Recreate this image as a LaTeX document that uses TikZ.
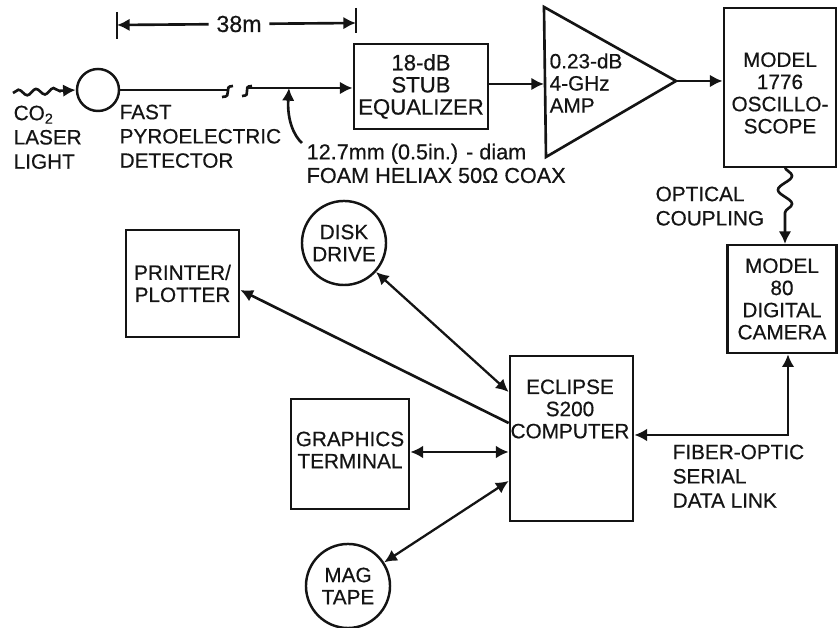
\documentclass[tikz,border=0pt]{standalone}
\usepackage{fontspec}
\setmainfont{Liberation Sans}[FakeBold=0.5]
\usetikzlibrary{arrows.meta,decorations.pathmorphing}
\definecolor{ink}{HTML}{141414}
\tikzset{
  blockbox/.style={draw=ink,line width=.75pt,inner sep=0pt,align=center,text=ink},
  roundbox/.style={draw=ink,circle,line width=.7pt,inner sep=0pt,align=center,text=ink,minimum size=.84cm},
  lbl/.style={inner sep=0pt,align=left,text=ink,font=\fontsize{5.9}{6.9}\selectfont},
  midlbl/.style={inner sep=0pt,align=center,text=ink},
  link/.style={draw=ink,line width=.75pt,-{Latex[length=3.6pt,width=3.6pt]}},
  duplex/.style={draw=ink,line width=.65pt,{Latex[length=3.6pt,width=3.6pt]}-{Latex[length=3.6pt,width=3.6pt]}},
  wavy/.style={decorate,decoration={snake,amplitude=.85pt,segment length=5pt,post length=4pt}},
}
\begin{document}
\begin{tikzpicture}[font=\fontsize{5.9}{6.3}\selectfont,>=Latex,x=.01cm,y=-.01cm]
  \useasboundingbox (0,0) rectangle (838,628);
  % top row
  \node[roundbox,minimum size=.42cm] (det) at (98,90) {};
  \node[blockbox,font=\fontsize{6.3}{6.3}\selectfont,minimum width=1.34cm,minimum height=.85cm] (stub) at (421,86.5) {18-dB\\STUB\\EQUALIZER};
  \coordinate (ampin) at (544,84);
  \coordinate (ampout) at (676,81);
  \draw[ink,line width=.75pt,line join=miter] (544,7)--(ampout)--(546,157)--cycle;
  \node[midlbl,align=left,anchor=west] (amp) at (549,83) {0.23-dB\\4-GHz\\AMP};
  \node[blockbox,minimum width=1.12cm,minimum height=1.59cm] (scope) at (780,87.5) {};
  \node[midlbl] (scopetext) at (780,93) {MODEL\\1776\\OSCILLO-\\SCOPE};
  \node[blockbox,minimum width=1.09cm,minimum height=1.08cm] (camera) at (782,299) {MODEL\\80\\DIGITAL\\CAMERA};
  % lower group
  \node[blockbox,minimum width=1.23cm,minimum height=1.65cm] (eclipse) at (571.5,438.5) {};
  \node[midlbl] (eclipsetext) at (570,409) {ECLIPSE\\S200\\COMPUTER};
  \node[blockbox,minimum width=1.18cm,minimum height=1.10cm] (graphics) at (350,454) {};
  \node[midlbl] (graphicstext) at (350,450) {GRAPHICS\\TERMINAL};
  \node[blockbox,minimum width=1.13cm,minimum height=1.07cm] (printer) at (182.5,283.5) {PRINTER/\\PLOTTER};
  \node[roundbox] (disk) at (344,243) {DISK\\DRIVE};
  \node[roundbox] (tape) at (348,586) {MAG\\TAPE};
  % dimension
  \coordinate (dimL) at (117,25);
  \coordinate (dimR) at (356,23);
  \node[midlbl,font=\fontsize{6.6}{8}\selectfont,inner sep=2pt] (dist) at (239,24) {38m};
  \draw[ink,line width=.7pt] (117,12)--(117,39);
  \draw[ink,line width=.7pt] (356,8)--(356,33);
  \draw[link] (dist)--(dimL);
  \draw[link] (dist)--(dimR);
  % signal path
  \coordinate (lightin) at (13,93);
  \coordinate (breakL) at (228,90);
  \coordinate (breakR) at (247,88);
  \coordinate (tap) at (289,88);
  \draw[link,wavy] (lightin)--(det.west);
  \draw[ink,line width=.75pt] (det)--(breakL);
  \draw[ink,line width=.75pt] (233,86) .. controls (222,86) and (234,97) .. (222,97);
  \draw[ink,line width=.75pt] (252,86) .. controls (241,86) and (253,96) .. (242,96);
  \draw[link] (breakR)--(stub.west|-breakR);
  \draw[link] (stub.east|-ampin)--(ampin);
  \draw[link] (ampout)--(scope.west|-ampout);
  \coordinate (coaxend) at (302,143);
  \draw[link] (coaxend) .. controls (294,136) and (287,120) .. (tap);
  % optical coupling
  \draw[link,wavy,decoration={snake,amplitude=2pt,segment length=8pt,post length=5pt}] (785,167)--(785,244);
  % computer links
  \draw[duplex] (eclipse.west|-0,452)--(graphics.east|-0,452);
  \draw[duplex] (eclipse.west|-0,392)--(disk);
  \draw[duplex] (eclipse.west|-0,481)--(tape);
  \draw[link] (eclipse.west|-0,423)--(printer.east|-0,290);
  \draw[duplex] (eclipse.east|-0,435)-|(camera.south-|788,0);
  % labels
  \node[lbl,anchor=north west] (co2) at (13,105) {CO\textsubscript{2}\\LASER\\LIGHT};
  \node[lbl,anchor=north west] (fast) at (119,104) {FAST\\PYROELECTRIC\\DETECTOR};
  \node[lbl,anchor=north west,font=\fontsize{6.15}{6.7}\selectfont] (coax) at (306,143) {12.7mm (0.5in.) - diam\\FOAM HELIAX 50Ω COAX};
  \node[lbl,anchor=north west] (coupling) at (655,186) {OPTICAL\\COUPLING};
  \node[lbl,anchor=north west] (fiber) at (672,444) {FIBER-OPTIC\\SERIAL\\DATA LINK};
\end{tikzpicture}
\end{document}
